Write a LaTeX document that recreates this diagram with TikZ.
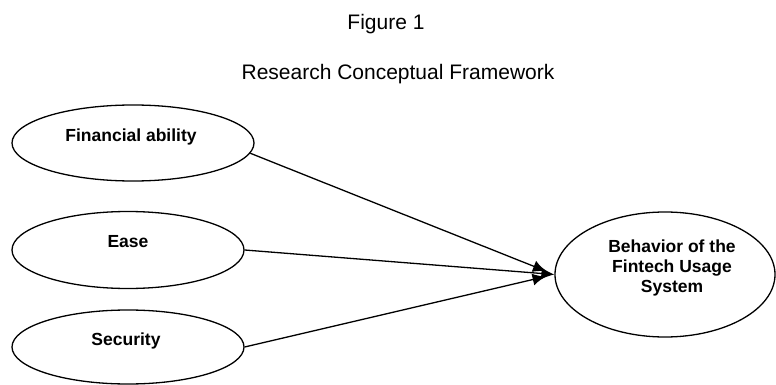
\documentclass[tikz,border=0pt]{standalone}
\usepackage{fontspec}
\setmainfont{Liberation Sans}
\usetikzlibrary{arrows.meta,shapes.geometric}
\begin{document}
\begin{tikzpicture}[x=1pt, y=-1pt,
  oval/.style={draw, ellipse, line width=1.3pt, inner sep=0pt},
  lbl/.style={font=\bfseries\fontsize{17.5}{20}\selectfont, align=center, inner sep=0pt},
  ttl/.style={font=\fontsize{21}{25}\selectfont, inner sep=0pt, anchor=base},
  conn/.style={-{Latex[length=13pt,width=12pt]}, line width=1.3pt}]
\useasboundingbox (0,0) rectangle (776,385);
\node[ttl] (fig) at (386,30) {Figure 1};
\node[ttl] (title) at (398,80) {Research Conceptual Framework};
\node[oval, minimum width=242pt, minimum height=76pt] (fin) at (133,143) {};
\node[oval, minimum width=232pt, minimum height=77pt] (ease) at (128,250) {};
\node[oval, minimum width=232pt, minimum height=74pt] (sec) at (128,347) {};
\node[oval, minimum width=220pt, minimum height=125pt] (beh) at (665,274.5) {};
\node[lbl, anchor=base] (fintxt) at ([xshift=-2pt, yshift=1pt]fin.center) {Financial ability};
\node[lbl, anchor=base] (easetxt) at ([yshift=3pt]ease.center) {Ease};
\node[lbl, anchor=base] (sectxt) at ([xshift=-2pt, yshift=2pt]sec.center) {Security};
\node[lbl] (behtxt) at ([xshift=7pt, yshift=6.5pt]beh.center) {Behavior of the\\Fintech Usage\\System};
\draw[conn, shorten >=9pt] (fin.-5) -- (beh.west);
\draw[conn] (ease.east) -- (beh.west);
\draw[conn, shorten >=9pt] (sec.east) -- (beh.west);
\end{tikzpicture}
\end{document}
